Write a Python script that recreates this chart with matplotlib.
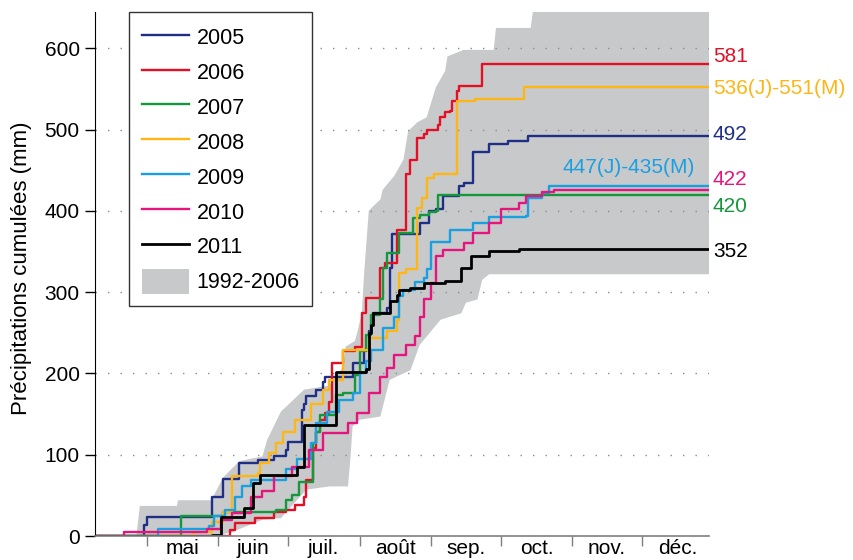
import numpy as np
import pandas as pd
import matplotlib
matplotlib.use('Agg')
import matplotlib.pyplot as plt
import matplotlib.transforms as mtransforms
from matplotlib.patches import Patch

plt.rcParams['font.family'] = ['Liberation Sans', 'DejaVu Sans']

# day of year (0 = 1 Jan, non-leap) and cumulative rainfall (mm)
days_2005 = [97, 119, 120, 148, 153, 160, 168, 175, 180, 181, 187, 188, 189, 193, 196, 197, 209, 214, 216, 217,
             218, 224, 225, 226, 238, 242, 245, 248, 255, 257, 261, 268, 276, 285, 364]
mm_2005 = [0, 14, 23, 48, 70, 90, 93, 98, 106, 116, 155, 163, 172, 180, 190, 196, 213, 229, 252, 260,
           274, 280, 330, 371, 385, 400, 402, 418, 430, 434, 473, 482, 486, 492, 492]

days_2006 = [97, 156, 158, 167, 175, 180, 184, 188, 189, 192, 193, 195, 197, 199, 200, 205, 210, 213, 215, 221,
             223, 228, 232, 234, 237, 240, 241, 246, 247, 249, 251, 252, 254, 255, 265, 364]
mm_2006 = [0, 7, 16, 22, 29, 32, 38, 48, 69, 108, 128, 143, 151, 165, 213, 228, 233, 274, 293, 330,
           336, 377, 445, 463, 490, 494, 500, 506, 516, 521, 523, 535, 547, 553, 581, 581]

days_2007 = [97, 135, 153, 176, 180, 183, 186, 192, 193, 195, 202, 205, 210, 212, 215, 217, 221, 222, 224, 229,
             235, 238, 242, 245, 246, 364]
mm_2007 = [0, 24, 29, 32, 44, 50, 67, 114, 128, 149, 174, 176, 198, 227, 247, 272, 291, 330, 348, 373,
           391, 395, 398, 400, 420, 420]

days_2008 = [97, 140, 148, 153, 157, 168, 169, 173, 176, 179, 184, 191, 196, 199, 205, 216, 224, 228, 229, 232,
             237, 239, 241, 244, 254, 262, 283, 364]
mm_2008 = [0, 5, 17, 30, 74, 78, 90, 102, 114, 128, 143, 163, 180, 192, 229, 243, 252, 266, 323, 328,
           403, 416, 440, 445, 535, 537, 552, 552]

days_2009 = [97, 125, 147, 149, 154, 158, 161, 165, 180, 185, 191, 193, 198, 203, 209, 212, 215, 217, 222, 227,
             229, 231, 236, 240, 241, 243, 251, 261, 268, 284, 285, 291, 294, 364]
mm_2009 = [0, 8, 12, 24, 32, 48, 61, 69, 83, 95, 114, 139, 153, 167, 176, 200, 215, 229, 256, 270,
           295, 303, 313, 318, 328, 362, 377, 385, 392, 394, 416, 422, 430, 430]

days_2010 = [97, 110, 146, 152, 157, 165, 170, 175, 183, 190, 196, 207, 211, 216, 221, 224, 227, 232, 236, 238,
             240, 243, 245, 248, 257, 261, 268, 273, 281, 284, 291, 296, 364]
mm_2010 = [0, 5, 9, 20, 28, 48, 55, 74, 85, 106, 127, 139, 151, 176, 196, 207, 223, 235, 246, 270,
           291, 311, 344, 352, 361, 373, 385, 402, 410, 418, 423, 426, 426]

days_2011 = [97, 148, 152, 162, 166, 169, 185, 188, 202, 215, 216, 217, 218, 225, 228, 229, 234, 240, 249, 256,
             260, 268, 281, 364]
mm_2011 = [0, 1, 23, 35, 65, 75, 85, 137, 202, 205, 250, 260, 274, 289, 297, 303, 305, 311, 314, 330,
           344, 350, 353, 353]

# 1992-2006 envelope (max and min)
band_days_hi = [97, 115.5, 117, 133, 133.5, 148, 149, 153, 160, 170, 172, 178, 188, 199, 205, 206, 210, 211, 213,
                214, 216, 218, 221, 222, 227, 231, 233, 237, 241, 245, 249, 250, 257, 270, 271, 286, 287, 364]
band_hi = [0, 0, 37, 37, 44, 44, 50, 72, 92, 98, 118, 153, 180, 185, 209, 233, 240, 250, 275,
           324, 400, 406, 414, 426, 443, 463, 498, 509, 515, 552, 572, 590, 598, 598, 625, 625, 646, 646]
band_days_lo = [97, 150, 157, 170, 178, 189, 199, 207, 208, 209, 212, 221, 225, 234, 238, 247, 256, 258, 263,
                265, 268, 364]
band_lo = [0, 0, 5, 20, 22, 57, 61, 61, 94, 135, 143, 147, 192, 204, 235, 266, 274, 287, 291,
           315, 322, 322]

years = ['2005', '2006', '2007', '2008', '2009', '2010', '2011']
series_days = [days_2005, days_2006, days_2007, days_2008, days_2009, days_2010, days_2011]
series_mm = [mm_2005, mm_2006, mm_2007, mm_2008, mm_2009, mm_2010, mm_2011]
colors = ['#1f2f86', '#e30f24', '#15973c', '#fdb614', '#1aa0e0', '#e4157d', '#000000']

end_labels = ['581', '536(J)-551(M)', '492', '447(J)-435(M)', '422', '420', '352']
month_names = ['mai', 'juin', 'juil.', 'août', 'sep.', 'oct.', 'nov.', 'déc.']

fig = plt.figure(figsize=(8.54, 5.6), dpi=100)
ax = fig.add_axes([95/854, 1-536/560, 614.2/854, 524.3/560])

band_x = np.r_[band_days_hi, band_days_lo[::-1]]
band_y = np.r_[band_hi, band_lo[::-1]]
ax.fill(band_x, band_y, color='#c8c9cb', lw=0, zorder=1)

for yr, d, v, c in zip(years, series_days, series_mm, colors):
    ax.step(d, v, where='post', color=c, lw=2.0 if yr == '2011' else 1.7, label=yr, zorder=2)

ax.set_xlim(97.6, 363.2)
ax.set_ylim(0, 645)

# months: ticks on boundaries, labels in the middle
month_start = pd.date_range('2001-05-01', '2002-01-01', freq='MS').dayofyear.values - 1
month_start[-1] = 365
ax.set_xticks(month_start[:-1])
ax.set_xticklabels([])
ax.set_xticks((month_start[:-1] + month_start[1:]) / 2, minor=True)
ax.set_xticklabels(month_names, minor=True, fontsize=15)
ax.tick_params(axis='x', which='major', direction='out', length=7, width=1, color='#7f7f7f')
ax.tick_params(axis='x', which='minor', length=0, pad=2)

ax.set_yticks(range(0, 601, 100))
ax.tick_params(axis='y', direction='out', length=7, width=1, labelsize=15, pad=4)

ax.spines['top'].set_visible(False)
ax.spines['right'].set_visible(False)
ax.spines['bottom'].set_color('#7f7f7f')
ax.spines['bottom'].set_linewidth(1.2)

ax.yaxis.grid(True, linestyle=(0, (1, 8)), color='#8c8c8c', lw=1)

ax.set_ylabel('Précipitations cumulées (mm)', fontsize=16)
ax.yaxis.set_label_coords(-0.102, 0.51)

# end of season values
trans = mtransforms.blended_transform_factory(ax.transAxes, ax.transData)
right_y = [590, 551, 494, 453, 438, 405, 350]
right_c = ['#e30f24', '#fdb614', '#1f2f86', '#1aa0e0', '#e4157d', '#15973c', '#000000']
for lab, yy, c in zip(end_labels, right_y, right_c):
    if lab.startswith('447'):
        ax.text(0.977, yy, lab, transform=trans, color=c, fontsize=15, ha='right', va='center')
    else:
        ax.text(1.006, yy, lab, transform=trans, color=c, fontsize=15, ha='left', va='center',
                clip_on=False)

handles, labels = ax.get_legend_handles_labels()
handles.append(Patch(facecolor='#c8c9cb', edgecolor='none'))
labels.append('1992-2006')
leg = ax.legend(handles, labels, loc='upper left', bbox_to_anchor=(129/854, 1-12/560),
                bbox_transform=fig.transFigure, borderaxespad=0, fontsize=15.5, frameon=True,
                fancybox=False, handlelength=2.2, handleheight=1.39, labelspacing=0.47,
                handletextpad=0.33, borderpad=0.6)
leg.get_frame().set_edgecolor('#333333')
leg.get_frame().set_linewidth(1.0)
leg.get_frame().set_alpha(1)

plt.savefig('out.png', dpi=100)
